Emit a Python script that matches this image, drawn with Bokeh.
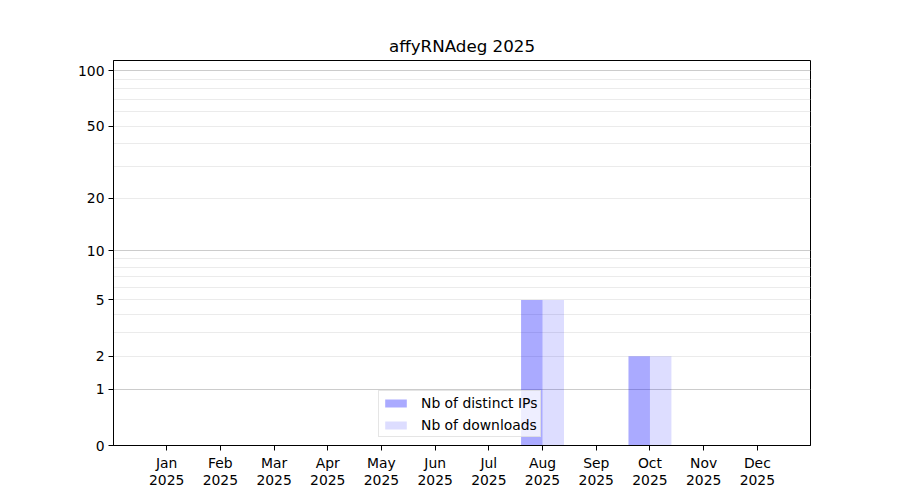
import math
from bokeh.plotting import figure
from bokeh.models import FixedTicker, Grid, Legend, LegendItem, ColumnDataSource, Range1d
from bokeh.embed import file_html
from bokeh.resources import INLINE

title = "affyRNAdeg 2025"
months = ["Jan", "Feb", "Mar", "Apr", "May", "Jun", "Jul", "Aug", "Sep", "Oct", "Nov", "Dec"]
year = "2025"
distinct_ips = [0, 0, 0, 0, 0, 0, 0, 5, 0, 2, 0, 0]
downloads = [0, 0, 0, 0, 0, 0, 0, 5, 0, 2, 0, 0]
y_tick_values = [0, 1, 2, 5, 10, 20, 50, 100]
major_grid_values = [1, 10, 100]
minor_grid_values = [2, 3, 4, 5, 6, 7, 8, 9, 20, 30, 40, 50, 60, 70, 80, 90]
y_max_value = 113.5


def tr(v):
    return math.log10(1 + v)


xs = list(range(len(months)))
src = ColumnDataSource(dict(
    x_ips=[x - 0.2 for x in xs],
    x_dl=[x + 0.2 for x in xs],
    ips=[tr(v) for v in distinct_ips],
    dl=[tr(v) for v in downloads],
))

FONT = "DejaVu Sans"

p = figure(width=900, height=500, output_backend="svg", toolbar_location=None,
           x_range=Range1d(-0.99, 11.99), y_range=Range1d(0, tr(y_max_value)),
           min_border_left=113, min_border_right=90, min_border_top=60, min_border_bottom=55)

p.title.text = title
p.title.text_font = FONT
p.title.text_font_size = "16.7px"
p.title.text_font_style = "normal"
p.title.align = "center"
p.title.text_color = "black"

p.outline_line_color = "black"
p.outline_line_width = 1
p.outline_line_alpha = 1
p.background_fill_color = "white"
p.border_fill_color = "white"

p.xgrid.visible = False
p.ygrid.visible = False

minor_grid = Grid(dimension=1, ticker=FixedTicker(ticks=[tr(v) for v in minor_grid_values]),
                  grid_line_color="#ebebeb", grid_line_width=1)
major_grid = Grid(dimension=1, ticker=FixedTicker(ticks=[tr(v) for v in major_grid_values]),
                  grid_line_color="#cccccc", grid_line_width=1)
p.add_layout(minor_grid)
p.add_layout(major_grid)

r1 = p.vbar(x="x_ips", top="ips", bottom=0, width=0.4, source=src,
            fill_color="blue", fill_alpha=0.333, line_color=None)
r2 = p.vbar(x="x_dl", top="dl", bottom=0, width=0.4, source=src,
            fill_color="blue", fill_alpha=0.135, line_color=None)

p.xaxis.ticker = FixedTicker(ticks=xs)
p.xaxis.major_label_overrides = {i: f"{m}\n{year}" for i, m in enumerate(months)}
p.yaxis.ticker = FixedTicker(ticks=[tr(v) for v in y_tick_values])
p.yaxis.major_label_overrides = {tr(v): str(v) for v in y_tick_values}

for ax in (p.xaxis, p.yaxis):
    ax.major_label_text_font = FONT
    ax.major_label_text_font_size = "13.9px"
    ax.major_label_text_color = "black"
    ax.major_label_text_line_height = 1.1
    ax.major_tick_out = 5
    ax.major_tick_in = 0
    ax.minor_tick_out = 0
    ax.minor_tick_in = 0
    ax.axis_line_color = "black"
    ax.major_tick_line_color = "black"
    ax.major_label_standoff = 4

legend = Legend(items=[LegendItem(label="Nb of distinct IPs", renderers=[r1]),
                       LegendItem(label="Nb of downloads", renderers=[r2])],
                location=(265, 8))
legend.label_text_font = FONT
legend.label_text_font_size = "13.9px"
legend.label_text_color = "black"
legend.glyph_width = 27
legend.glyph_height = 10
legend.label_height = 17
legend.spacing = 5
legend.padding = 3
legend.margin = 0
legend.border_line_color = "#cccccc"
legend.background_fill_alpha = 0.8
legend.label_standoff = 12
p.add_layout(legend, "center")

open("out.html", "w").write(file_html(p, INLINE))
